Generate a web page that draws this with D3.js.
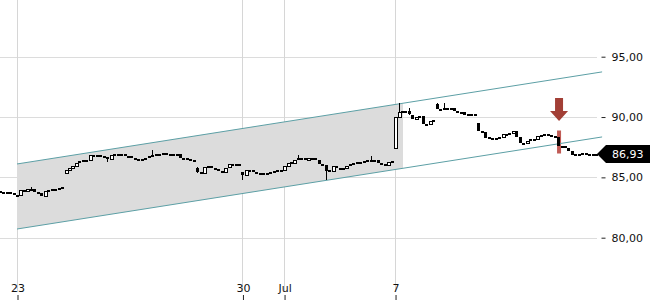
<!DOCTYPE html>
<html>
<head>
<meta charset="utf-8">
<script src="https://cdn.jsdelivr.net/npm/d3@7"></script>
<style>
  body { margin: 0; background: #fff; }
  text { font-family: "DejaVu Sans", sans-serif; font-size: 11px; }
</style>
</head>
<body>
<svg id="chart" width="650" height="300"></svg>
<script>
// 30 minute closes, one per bar, Jun 20 .. Jul 11
var closes = [
  83.82, 83.80, 83.78, 83.73, 83.57, 83.53, 83.94, 83.82, 84.02, 84.07,
  83.82, 83.69, 83.45, 83.90, 83.98, 84.02, 84.07, 84.11, 84.17, 85.64,
  85.81, 85.98, 86.19, 86.35, 86.48, 86.47, 86.86, 86.81, 86.86, 86.73,
  86.69, 86.52, 86.86, 86.90, 86.89, 86.90, 86.81, 86.77, 86.60, 86.56,
  86.52, 86.56, 86.64, 86.73, 86.86, 86.90, 86.86, 86.98, 86.97, 86.94,
  86.93, 86.90, 86.60, 86.64, 86.52, 86.44, 86.43, 85.44, 85.39, 85.85,
  85.93, 85.81, 85.68, 85.56, 85.44, 85.81, 86.10, 86.10, 86.09, 86.10,
  85.23, 85.64, 85.63, 85.44, 85.35, 85.31, 85.35, 85.39, 85.48, 85.56,
  85.60, 85.59, 85.93, 86.19, 86.27, 86.48, 86.60, 86.64, 86.44, 86.64,
  86.63, 86.44, 86.14, 86.02, 85.52, 85.60, 85.98, 85.81, 85.80, 85.81,
  85.98, 86.10, 86.23, 86.27, 86.31, 86.39, 86.40, 86.48, 86.44, 86.19,
  86.14, 86.10, 86.31, 86.35, 90.00, 90.38, 90.50, 90.46, 90.17, 89.80,
  90.00, 90.09, 89.42, 89.46, 89.71, 89.75, 90.67, 90.63, 90.71, 90.70,
  90.75, 90.46, 90.45, 90.38, 90.17, 90.21, 90.20, 90.21, 88.85, 88.77,
  88.31, 88.23, 88.19, 88.23, 88.35, 88.60, 88.51, 88.64, 88.81, 88.35,
  87.85, 87.84, 88.02, 88.14, 88.15, 88.43, 88.51, 88.56, 88.55, 88.39,
  88.38, 87.60, 87.64, 87.44, 87.15, 86.81, 86.90, 86.94, 86.98, 86.97,
  86.94, 86.90, 86.93
];

// opens that differ from the previous close (session gaps)
var gapOpens = [[0, 83.84], [19, 85.39], [57, 85.77], [70, 85.44], [114, 87.39], [126, 91.08], [138, 89.51]];

// [bar, low, high] where the wick sticks out of the body
var wicks = [
  [9, 84.02, 84.22], [31, 86.27, 86.69], [44, 86.73, 87.23], [57, 85.35, 85.85],
  [58, 85.27, 85.44], [70, 84.77, 85.44], [86, 86.56, 86.86], [94, 84.77, 86.02],
  [107, 86.44, 86.77], [115, 90.00, 91.16], [118, 90.17, 90.72], [126, 90.67, 91.16],
  [128, 90.63, 91.16]
];

var tickLabels = ["23", "30", "Jul", "7"];
var tickBars = [5, 70, 82, 114];
var yTicks = [80, 85, 90, 95];

// trend channel [bar, value]
var channelUpper = [[5, 86.11], [173.7, 93.74]];
var channelLower = [[5, 80.72], [173.7, 88.35]];
var channelFillEnd = 116.3;

var signalBar = 161;
var lastPrice = 86.93;

// HELPERS

var lineAt = function(pts, b){
  var t = (b - pts[0][0]) / (pts[1][0] - pts[0][0]);
  return pts[0][1] + t * (pts[1][1] - pts[0][1]);
};

var fmt = function(v){ return d3.format(".2f")(v).replace(".", ","); };

// BUILD BARS

var gapMap = new Map(gapOpens);
var wickMap = new Map(wicks.map(function(w){ return [w[0], w]; }));

var bars = closes.map(function(c, i){
  var o = gapMap.has(i) ? gapMap.get(i) : closes[i - 1];
  var w = wickMap.get(i);
  return {
    i: i, open: o, close: c,
    low: w ? Math.min(w[1], o, c) : Math.min(o, c),
    high: w ? Math.max(w[2], o, c) : Math.max(o, c)
  };
});

var isHollow = function(d){ return d.close > d.open && y(d.open) - y(d.close) > 2; };

// SCALES

var x = d3.scaleLinear().domain([0, 172]).range([-0.34, 596.2]);
var y = d3.scaleLinear().domain([80, 95]).range([237.7, 56.7]);

var svg = d3.select('#chart');

// grid
svg.append('g').selectAll('line')
  .data(yTicks)
  .enter()
  .append('line')
  .attr('x1', 0).attr('x2', 597)
  .attr('y1', function(d){ return Math.round(y(d)) + 0.5; })
  .attr('y2', function(d){ return Math.round(y(d)) + 0.5; })
  .style('stroke', '#dcdcdc');

svg.append('g').selectAll('line')
  .data(tickBars)
  .enter()
  .append('line')
  .attr('x1', function(d){ return Math.round(x(d)) + 0.5; })
  .attr('x2', function(d){ return Math.round(x(d)) + 0.5; })
  .attr('y1', 0).attr('y2', 292)
  .style('stroke', '#d6d6d6');

// channel fill
var fillPts = [
  [channelUpper[0][0], lineAt(channelUpper, channelUpper[0][0])],
  [channelFillEnd, lineAt(channelUpper, channelFillEnd)],
  [channelFillEnd, lineAt(channelLower, channelFillEnd)],
  [channelLower[0][0], lineAt(channelLower, channelLower[0][0])]
];
svg.append('path')
  .attr('d', d3.line().x(function(d){ return x(d[0]); }).y(function(d){ return y(d[1]); })(fillPts) + 'Z')
  .style('fill', '#dcdcdc');

// red signal bar
svg.append('rect')
  .attr('x', x(signalBar) - 1)
  .attr('width', 4)
  .attr('y', 130.5)
  .attr('height', 23)
  .style('fill', '#b94a44')
  .style('opacity', 0.9);

// channel lines
var chLine = d3.line().x(function(d){ return x(d[0]); }).y(function(d){ return y(d[1]); });
[channelUpper, channelLower].forEach(function(pts){
  svg.append('path')
    .attr('d', chLine(pts))
    .style('fill', 'none')
    .style('stroke', '#5c9fa5')
    .style('stroke-width', 1);
});

// candles
var candles = svg.append('g').attr('shape-rendering', 'crispEdges');

candles.selectAll('.wick')
  .data(bars.filter(function(d){ return d.high > Math.max(d.open, d.close) || d.low < Math.min(d.open, d.close); }))
  .enter()
  .append('line')
  .attr('class', 'wick')
  .attr('x1', function(d){ return Math.round(x(d.i)) + 0.5; })
  .attr('x2', function(d){ return Math.round(x(d.i)) + 0.5; })
  .attr('y1', function(d){ return y(d.high); })
  .attr('y2', function(d){ return y(d.low); })
  .style('stroke', '#000');

candles.selectAll('.body')
  .data(bars)
  .enter()
  .append('rect')
  .attr('class', 'body')
  .attr('x', function(d){ return Math.round(x(d.i)) - 1; })
  .attr('width', 3)
  .attr('y', function(d){ return Math.round(y(Math.max(d.open, d.close))); })
  .attr('height', function(d){ return Math.max(2, Math.round(Math.abs(y(d.open) - y(d.close)))); })
  .style('fill', function(d){ return isHollow(d) ? '#fff' : '#000'; })
  .style('stroke', function(d){ return isHollow(d) ? '#000' : 'none'; });

// arrow above the signal bar
var ax = x(signalBar) + 1;
svg.append('path')
  .attr('d', 'M' + (ax - 4) + ',98 H' + (ax + 4) + ' V111 H' + (ax + 9) + ' L' + ax + ',121 L' + (ax - 9) + ',111 H' + (ax - 4) + 'Z')
  .style('fill', '#a23f36');

// axes
var yAxis = d3.axisRight(y)
  .tickValues(yTicks)
  .tickFormat(fmt)
  .tickSize(4)
  .tickPadding(6);

svg.append('g')
  .attr('transform', 'translate(601.5,0)')
  .call(yAxis)
  .call(function(g){ g.select('.domain').remove(); })
  .call(function(g){ g.selectAll('line').style('stroke', '#222'); })
  .call(function(g){ g.selectAll('text').style('fill', '#111').style('font-size', '11px').style('font-family', '"DejaVu Sans", sans-serif'); });

var xAxis = d3.axisTop(x)
  .tickValues(tickBars)
  .tickFormat(function(d, i){ return tickLabels[i]; })
  .tickSize(5)
  .tickPadding(3);

svg.append('g')
  .attr('transform', 'translate(0.5,300)')
  .call(xAxis)
  .call(function(g){ g.select('.domain').remove(); })
  .call(function(g){ g.selectAll('line').style('stroke', '#222'); })
  .call(function(g){ g.selectAll('text').style('fill', '#111').style('font-size', '11px').style('font-family', '"DejaVu Sans", sans-serif'); });

// last price tag
var ly = y(lastPrice);
svg.append('path')
  .attr('d', 'M597,' + ly + ' L606,' + (ly - 9) + ' H650 V' + (ly + 9) + ' H606 Z')
  .style('fill', '#000');

svg.append('text')
  .attr('x', 612)
  .attr('y', ly)
  .attr('dy', '0.36em')
  .style('fill', '#fff')
  .text(fmt(lastPrice));
</script>
</body>
</html>
